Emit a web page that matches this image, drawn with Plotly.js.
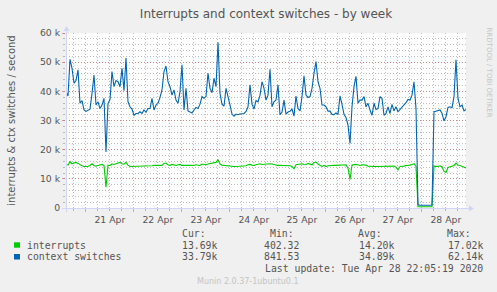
<!DOCTYPE html>
<html><head><meta charset="utf-8">
<script src="https://cdn.plot.ly/plotly-3.0.1.min.js"></script>
<style>html,body{margin:0;padding:0;background:#F0F0F0;}#chart{width:497px;height:292px;}</style>
</head><body><div id="chart"></div>
<script>
// ---- data (1-hour samples) ----
const startTime = [2020, 3, 20, 14, 5]; // 2020-04-20 14:05
const stepHours = 1;
const interrupts = [
14940,14710,15860,15170,15400,15630,15290,14830,14480,14250,
14250,14250,14600,15170,14600,14370,14600,14830,14940,14600,
7100,14710,14600,15170,14940,15170,15400,15630,15170,15060,
15630,14710,14250,14250,14250,14250,14250,14250,14250,14250,
14250,14250,14250,14480,14600,14600,14600,14600,14600,15290,
15400,14830,14600,14940,14830,14600,14830,14940,14600,14600,
14600,14480,14370,14370,14600,14830,14710,14600,15060,14940,
14830,15060,15170,15170,15400,15630,16550,15060,14710,14600,
14600,14370,14250,14250,14250,14250,14250,14250,14250,14370,
14480,14830,14940,14710,14600,14830,15060,15170,14940,15060,
15170,15170,15170,15060,14830,14600,14600,14600,14600,14600,
14600,14600,14480,14250,13450,14830,14940,14940,15170,14940,
14830,15290,15060,14830,15520,15750,15060,14710,14250,14600,
14250,14480,14600,14600,14600,14600,14600,14600,14600,14710,
14830,13680,9770,14710,14940,14940,14830,14600,14830,14830,
14710,14370,14250,14250,14250,14250,14250,14250,14250,14250,
14250,14250,14370,14480,14370,14020,13100,14250,14250,14370,
14600,14600,14710,14940,15170,14250,450,420,402,410,
430,440,460,480,14370,14250,14250,14480,14140,12530,
12180,13910,14140,14250,14600,15400,14710,14600,14250,14020,
13690];
const contextSwitches = [
39900,38400,51000,47900,42800,43700,47400,35900,36800,33600,
33100,33400,33900,39300,45600,35300,36400,34100,35300,37600,
19200,35900,37200,46800,41600,43700,43300,41600,47900,40200,
51400,36400,34700,33900,31800,32400,32400,33000,32400,33600,
32800,34100,34100,37600,33600,35300,35900,37900,40500,46800,
48700,43300,41600,38700,40500,37000,35900,39900,49100,33600,
41000,33300,33000,32600,33600,34500,34100,35600,38200,37600,
38200,46200,41000,39500,44500,41600,56800,39300,35600,34900,
41000,37600,35300,32200,31500,32200,32000,32200,32200,32400,
33100,34700,42200,35600,33900,36800,36400,38700,43300,41000,
37000,38700,47600,34700,36400,37000,42200,32000,32800,37000,
32200,32900,33200,33900,31500,38400,34100,33300,38200,45300,
38700,37900,38200,41000,46200,50200,43300,41000,35300,35300,
34700,33200,33200,32100,32000,32600,32200,38400,35500,32100,
31000,28400,22100,34700,41600,45100,35900,37000,37000,38200,
34700,35900,33600,31800,35900,33800,34100,38200,37600,31800,
32400,34700,32400,35500,33300,34700,33000,33800,34400,35500,
36100,37200,37000,38700,43300,34100,1100,950,900,860,
842,880,920,1000,33000,33200,33300,33600,32500,29900,
31300,34500,34700,34400,38200,50800,37600,34700,35300,33300,
33790];
const seriesNames = ['interrupts', 'context switches'];
const seriesColors = ['#00CC00', '#0066B3'];
const yTickValues = [0, 10000, 20000, 30000, 40000, 50000, 60000];
const yTickLabels = ['0', '10 k', '20 k', '30 k', '40 k', '50 k', '60 k'];
const statHeaders = ['Cur:', 'Min:', 'Avg:', 'Max:'];
const interruptsStats = ['13.69k', '402.32', '14.20k', '17.02k'];
const contextStats = ['33.79k', '841.53', '34.89k', '62.14k'];
const lastUpdate = 'Last update: Tue Apr 28 22:05:19 2020';
const footer = 'Munin 2.0.37-1ubuntu0.1';
const sideText = 'RRDTOOL / TOBI OETIKER';
const titleText = 'Interrupts and context switches - by week';
const yTitle = 'interrupts &amp; ctx switches / second';
const xRange = ['2020-04-20 14:05', '2020-04-28 22:05'];

// ---- build ----
const t0 = Date.UTC(...startTime);
function fmt(ms){ return new Date(ms).toISOString().slice(0,16).replace('T',' '); }
const times = interrupts.map((_, i) => fmt(t0 + i * stepHours * 3600e3));

const W = 497, H = 292, L = 66, R = 31, T = 33, B = 84;
const PW = W - L - R, PH = H - T - B;
const ax = px => (px - L) / PW;
const ay = py => (T + PH - py) / PH;

const traces = [
  {x: times, y: interrupts, type: 'scatter', mode: 'lines', name: seriesNames[0],
   line: {color: seriesColors[0], width: 1.1}},
  {x: times, y: contextSwitches, type: 'scatter', mode: 'lines', name: seriesNames[1],
   line: {color: seriesColors[1], width: 1.1}}
];

const axisCol = '#CFD6F8';
const gridCol = 'rgba(143,143,143,0.6)';
const mgridCol = 'rgba(222,79,79,0.5)';
const fontCol = '#555555';
const mono = 'DejaVu Sans Mono';

const ann = [];
const colLeft = [181.7, 270, 358, 447];
const colRight = [217.3, 299, 394, 483];
function txt(text, px, py, xanchor, opts) {
  ann.push(Object.assign({text: text, x: ax(px), y: ay(py), xref: 'paper', yref: 'paper',
    xanchor: xanchor, yanchor: 'middle', showarrow: false, borderpad: 0, borderwidth: 0,
    font: {family: mono, size: 9.8, color: fontCol}}, opts || {}));
}
statHeaders.forEach((h, k) => txt(h, colLeft[k], 233, 'left'));
txt(seriesNames[0], 26.7, 245, 'left');
txt(seriesNames[1], 26.7, 256.7, 'left');
interruptsStats.forEach((v, k) => txt(v, colRight[k], 245, 'right'));
contextStats.forEach((v, k) => txt(v, colRight[k], 256.7, 'right'));
txt(lastUpdate, 482.7, 268.3, 'right');
txt(footer, 247.7, 281.3, 'center', {font: {family: 'DejaVu Sans', size: 8, color: '#c4c4c4'}});
txt(sideText, 489, 72.5, 'center', {textangle: 90, font: {family: 'DejaVu Sans', size: 7, color: '#c4c4c4'}});

const shapes = [
  {type: 'rect', xref: 'paper', yref: 'paper', x0: ax(14), x1: ax(20), y0: ay(247.7), y1: ay(242.3),
   fillcolor: seriesColors[0], line: {width: 0}},
  {type: 'rect', xref: 'paper', yref: 'paper', x0: ax(14), x1: ax(20), y0: ay(259.5), y1: ay(254),
   fillcolor: seriesColors[1], line: {width: 0}},
  {type: 'line', xref: 'paper', yref: 'paper', x0: ax(62), x1: ax(470), y0: ay(208.5), y1: ay(208.5),
   line: {color: axisCol, width: 1}},
  {type: 'line', xref: 'paper', yref: 'paper', x0: ax(66.5), x1: ax(66.5), y0: ay(212), y1: ay(29),
   line: {color: axisCol, width: 1}},
  {type: 'path', xref: 'paper', yref: 'paper',
   path: `M ${ax(474)} ${ay(208.5)} L ${ax(469)} ${ay(205.5)} L ${ax(469)} ${ay(211.5)} Z`,
   fillcolor: axisCol, line: {width: 0}},
  {type: 'path', xref: 'paper', yref: 'paper',
   path: `M ${ax(66.5)} ${ay(26)} L ${ax(63.5)} ${ay(31)} L ${ax(69.5)} ${ay(31)} Z`,
   fillcolor: axisCol, line: {width: 0}}
];

const layout = {
  width: W, height: H,
  margin: {l: L, r: R, t: T, b: B, pad: 0},
  paper_bgcolor: '#F0F0F0', plot_bgcolor: '#FFFFFF',
  showlegend: false,
  title: {text: titleText, x: 0.5, xref: 'paper', xanchor: 'center', y: 1 - 13.5 / H, yref: 'container', yanchor: 'middle',
          font: {family: 'DejaVu Sans', size: 12, color: fontCol}},
  xaxis: {type: 'date', range: xRange, tick0: '2020-04-21', dtick: 86400000,
          tickformat: '%d %b', ticklabelmode: 'period',
          showgrid: true, gridcolor: mgridCol, griddash: '1px,2px', gridwidth: 1,
          ticks: 'outside', ticklen: 3, tickcolor: mgridCol, showline: false, zeroline: false,
          tickfont: {family: 'DejaVu Sans', size: 9.3, color: fontCol},
          minor: {dtick: 6 * 3600000, tick0: '2020-04-21', showgrid: true, gridcolor: gridCol, griddash: '1px,2px',
                  ticks: 'outside', ticklen: 2, tickcolor: gridCol},
          fixedrange: true},
  yaxis: {range: [0, 60000], tickvals: yTickValues, ticktext: yTickLabels,
          showgrid: true, gridcolor: mgridCol, griddash: '1px,2px', gridwidth: 1,
          ticks: 'outside', ticklen: 3, tickcolor: mgridCol, showline: false, zeroline: false,
          tickfont: {family: 'DejaVu Sans', size: 9.3, color: fontCol},
          minor: {dtick: 2000, tick0: 0, showgrid: true, gridcolor: gridCol, griddash: '1px,2px',
                  ticks: 'outside', ticklen: 2, tickcolor: gridCol},
          title: {text: yTitle, standoff: 22, font: {family: 'DejaVu Sans', size: 10, color: fontCol}},
          fixedrange: true},
  annotations: ann,
  shapes: shapes
};

Plotly.newPlot('chart', traces, layout, {staticPlot: true, displayModeBar: false});
</script>
</body></html>
